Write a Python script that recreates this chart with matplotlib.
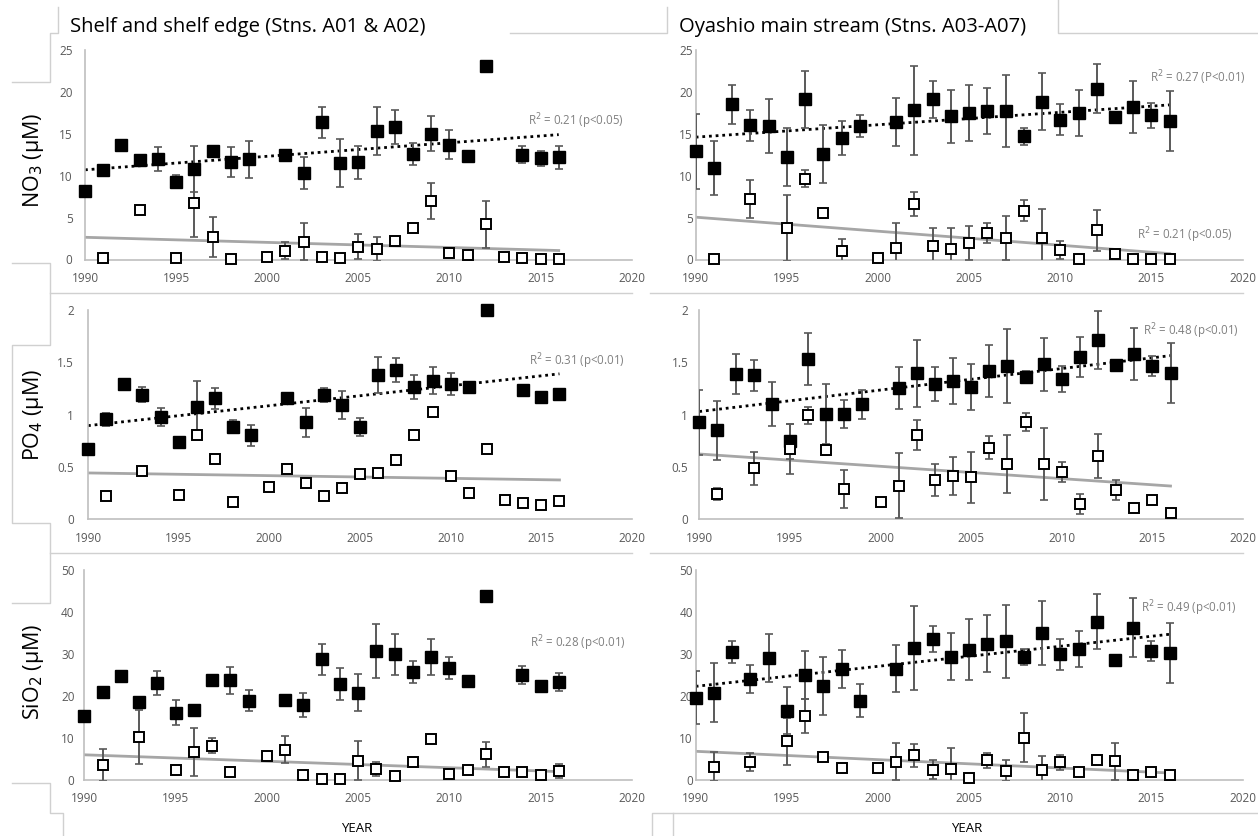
import numpy as np
import matplotlib
matplotlib.use('Agg')
import matplotlib.pyplot as plt
from matplotlib.lines import Line2D

plt.rcParams['font.family'] = ['Open Sans', 'DejaVu Sans']

years = np.arange(1990, 2017)
nan = np.nan

# shelf (A01 & A02)
no3_shelf = [8.2, 10.7, 13.7, 11.9, 12.0, 9.3, 10.8, 12.9, 11.6, 11.95, nan, 12.5, 10.35, 16.4, 11.5,
             11.6, 15.35, 15.8, 12.6, 15.0, 13.7, 12.4, 23.05, nan, 12.5, 12.1, 12.2]
no3_shelf_err = [0, 0, 0, 0, 1.4, 0.8, 2.7, 0, 1.8, 2.2, 0, 0, 1.9, 1.85, 2.9,
                 1.95, 2.9, 2.0, 1.35, 2.1, 1.75, 0, 0, 0, 1.0, 0.9, 1.35]
no3_shelf_o = [nan, 0.2, nan, 5.9, nan, 0.2, 6.7, 2.65, 0.1, nan, 0.3, 1.07, 2.1, 0.3, 0.2,
               1.55, 1.27, 2.2, 3.8, 7.0, 0.75, 0.5, 4.2, 0.35, 0.15, 0.1, 0.1]
no3_shelf_o_err = [0, 0, 0, 0, 0, 0, 4.0, 2.4, 0, 0, 0, 1.0, 2.2, 0, 0,
                   1.5, 1.4, 0, 0, 2.15, 0, 0, 2.8, 0, 0, 0, 0]

po4_shelf = [0.67, 0.955, 1.29, 1.19, 0.98, 0.735, 1.075, 1.155, 0.885, 0.805, nan, 1.155, 0.925, 1.19, 1.09,
             0.88, 1.38, 1.43, 1.26, 1.325, 1.29, 1.26, 2.0, nan, 1.24, 1.165, 1.2]
po4_shelf_err = [0, 0.06, 0.05, 0.07, 0.085, 0, 0.245, 0.1, 0.065, 0.1, 0, 0.02, 0.135, 0.065, 0.135,
                 0.085, 0.175, 0.115, 0.115, 0.13, 0.105, 0, 0, 0, 0, 0, 0.03]
po4_shelf_o = [nan, 0.22, nan, 0.465, nan, 0.23, 0.81, 0.575, 0.17, nan, 0.31, 0.48, 0.345, 0.22, 0.295,
               0.43, 0.44, 0.567, 0.81, 1.03, 0.417, 0.255, 0.67, 0.18, 0.16, 0.137, 0.175]
po4_shelf_o_err = [0] * 27

sio2_shelf = [15.3, 21.0, 24.8, 18.65, 23.1, 16.0, 16.7, 23.9, 23.7, 18.9, nan, 19.0, 17.85, 28.7, 22.8,
              20.8, 30.7, 29.9, 25.8, 29.2, 26.6, 23.65, 43.9, nan, 25.0, 22.3, 23.3]
sio2_shelf_err = [0, 0.5, 0, 0, 2.9, 2.95, 0, 0, 3.3, 2.45, 0, 0, 2.8, 3.75, 3.8,
                  4.4, 6.4, 4.85, 2.6, 4.3, 2.6, 0, 0, 0, 2.15, 1.2, 2.2]
sio2_shelf_o = [nan, 3.57, nan, 10.2, nan, 2.46, 6.67, 8.2, 2.0, nan, 5.7, 7.2, 1.27, 0.24, 0.16,
                4.6, 2.7, 1.03, 4.3, 9.84, 1.5, 2.46, 6.1, 1.9, 1.83, 1.1, 2.14]
sio2_shelf_o_err = [0, 3.8, 0, 6.35, 0, 0, 5.65, 1.7, 0, 0, 0, 3.2, 0, 0, 0,
                    4.65, 1.7, 0, 0, 0, 0, 0, 3.05, 0, 0, 0, 1.6]

# Oyashio (A03-A07)
no3_oya = [12.9, 10.9, 18.5, 16.0, 15.95, 12.2, 19.1, 12.6, 14.5, 15.9, nan, 16.4, 17.8, 19.1, 17.1,
           17.5, 17.7, 17.75, 14.7, 18.85, 16.7, 17.5, 20.4, 17.0, 18.2, 17.2, 16.5]
no3_oya_err = [4.5, 3.25, 2.35, 1.8, 3.25, 3.45, 3.4, 3.5, 2.0, 1.3, 0, 2.9, 5.35, 2.2, 3.15,
               3.3, 2.75, 4.3, 1.0, 3.4, 1.8, 2.75, 2.9, 0, 3.15, 1.45, 3.55]
no3_oya_o = [nan, 0.1, nan, 7.2, nan, 3.75, 9.65, 5.5, 1.0, nan, 0.15, 1.4, 6.6, 1.6, 1.3,
             2.0, 3.2, 2.6, 5.8, 2.6, 1.1, 0.1, 3.5, 0.7, 0.1, 0.1, 0.1]
no3_oya_o_err = [0, 0, 0, 2.3, 0, 3.9, 1.05, 0.5, 1.4, 0, 0, 3.0, 1.45, 2.2, 2.5,
                 2.0, 1.2, 2.6, 1.25, 3.4, 1.05, 0, 2.45, 0, 0, 0, 0]

po4_oya = [0.927, 0.85, 1.39, 1.376, 1.105, 0.745, 1.53, 1.006, 1.006, 1.1, nan, 1.258, 1.395, 1.293, 1.325,
           1.26, 1.417, 1.465, 1.363, 1.48, 1.344, 1.554, 1.713, 1.475, 1.58, 1.465, 1.4]
po4_oya_err = [0.31, 0.285, 0.19, 0.15, 0.21, 0.17, 0.25, 0.285, 0.135, 0.14, 0, 0.2, 0.32, 0.165, 0.22,
               0.22, 0.25, 0.355, 0.05, 0.255, 0.125, 0.19, 0.275, 0, 0.245, 0.095, 0.285]
po4_oya_o = [nan, 0.242, nan, 0.487, nan, 0.675, 0.994, 0.66, 0.29, nan, 0.17, 0.32, 0.806, 0.376, 0.414,
             0.4, 0.685, 0.529, 0.927, 0.529, 0.455, 0.15, 0.608, 0.28, 0.108, 0.188, 0.057]
po4_oya_o_err = [0, 0.06, 0, 0.16, 0, 0.24, 0.083, 0.05, 0.185, 0, 0.03, 0.31, 0.14, 0.15, 0.18,
                 0.24, 0.11, 0.28, 0.085, 0.34, 0.095, 0.095, 0.21, 0.095, 0, 0, 0]

sio2_oya = [19.6, 20.8, 30.4, 24.05, 29.05, 16.5, 24.9, 22.4, 26.5, 18.9, nan, 26.5, 31.35, 33.65, 29.4,
            31.0, 32.5, 33.0, 29.4, 35.0, 29.9, 31.2, 37.7, 28.6, 36.3, 30.7, 30.3]
sio2_oya_err = [6.35, 7.05, 2.6, 3.45, 5.8, 5.6, 5.7, 6.95, 4.55, 3.9, 0, 5.6, 10.0, 3.1, 5.55,
                7.3, 6.9, 8.65, 1.9, 7.55, 3.75, 4.2, 6.55, 0, 6.95, 2.45, 7.1]
sio2_oya_o = [nan, 3.2, nan, 4.3, nan, 9.2, 15.3, 5.55, 2.9, nan, 2.8, 4.4, 5.9, 2.5, 2.55,
              0.55, 4.7, 2.15, 10.1, 2.4, 4.2, 1.9, 4.85, 4.45, 1.27, 1.9, 1.27]
sio2_oya_o_err = [0, 3.5, 0, 2.2, 0, 5.6, 4.0, 0, 0, 0, 0, 4.5, 2.75, 2.2, 5.0,
                  0, 1.75, 2.5, 5.85, 3.3, 1.7, 0, 1.1, 4.35, 0, 0, 0]

# trend lines read at 1990 and 2016
trend_years = [1990, 2016]
trend_no3_shelf, trend_no3_shelf_o = [10.7, 14.9], [2.65, 1.07]
trend_no3_oya, trend_no3_oya_o = [14.6, 18.45], [5.05, 0.7]
trend_po4_shelf, trend_po4_shelf_o = [0.895, 1.39], [0.443, 0.376]
trend_po4_oya, trend_po4_oya_o = [1.03, 1.564], [0.624, 0.318]
trend_sio2_shelf, trend_sio2_shelf_o = None, [6.0, 2.0]
trend_sio2_oya, trend_sio2_oya_o = [22.3, 34.7], [6.83, 1.67]

W, H = 1258, 836
fig = plt.figure(figsize=(W / 100, H / 100), dpi=100)


def box(x0, x1, y_top, y_bot):
    return [x0 / W, 1 - y_bot / H, (x1 - x0) / W, (y_bot - y_top) / H]


panels = [
    dict(pos=box(85, 631.6, 50, 259.5), ylim=25, yt=[0, 5, 10, 15, 20, 25], pad=9,
         f=no3_shelf, fe=no3_shelf_err, o=no3_shelf_o, oe=no3_shelf_o_err,
         tf=trend_no3_shelf, to=trend_no3_shelf_o,
         notes=[('R$^2$ = 0.21 (p<0.05)', 2014.3, 16.5)]),
    dict(pos=box(695.7, 1242.6, 50, 259.5), ylim=25, yt=[0, 5, 10, 15, 20, 25], pad=2,
         f=no3_oya, fe=no3_oya_err, o=no3_oya_o, oe=no3_oya_o_err,
         tf=trend_no3_oya, to=trend_no3_oya_o,
         notes=[('R$^2$ = 0.27 (P<0.01)', 2014.9, 21.7), ('R$^2$ = 0.21 (p<0.05)', 2014.2, 2.9)]),
    dict(pos=box(88, 632, 310, 519.3), ylim=2, yt=[0, 0.5, 1, 1.5, 2], pad=10,
         f=po4_shelf, fe=po4_shelf_err, o=po4_shelf_o, oe=po4_shelf_o_err,
         tf=trend_po4_shelf, to=trend_po4_shelf_o,
         notes=[('R$^2$ = 0.31 (p<0.01)', 2014.3, 1.51)]),
    dict(pos=box(699.3, 1243, 310, 519.3), ylim=2, yt=[0, 0.5, 1, 1.5, 2], pad=8,
         f=po4_oya, fe=po4_oya_err, o=po4_oya_o, oe=po4_oya_o_err,
         tf=trend_po4_oya, to=trend_po4_oya_o,
         notes=[('R$^2$ = 0.48 (p<0.01)', 2014.5, 1.8)]),
    dict(pos=box(84.3, 631.8, 570, 780), ylim=50, yt=[0, 10, 20, 30, 40, 50], pad=7,
         f=sio2_shelf, fe=sio2_shelf_err, o=sio2_shelf_o, oe=sio2_shelf_o_err,
         tf=trend_sio2_shelf, to=trend_sio2_shelf_o,
         notes=[('R$^2$ = 0.28 (p<0.01)', 2014.4, 32.6)]),
    dict(pos=box(695.7, 1242.6, 570, 780), ylim=50, yt=[0, 10, 20, 30, 40, 50], pad=2,
         f=sio2_oya, fe=sio2_oya_err, o=sio2_oya_o, oe=sio2_oya_o_err,
         tf=trend_sio2_oya, to=trend_sio2_oya_o,
         notes=[('R$^2$ = 0.49 (p<0.01)', 2014.4, 41.0)]),
]

gray_txt = '#595959'
for p in panels:
    ax = fig.add_axes(p['pos'])
    ax.set_xlim(1990, 2020)
    ax.set_ylim(0, p['ylim'])
    ax.set_xticks([1990, 1995, 2000, 2005, 2010, 2015, 2020])
    ax.set_yticks(p['yt'])
    ax.set_yticklabels(['%g' % v for v in p['yt']])
    for s in ['top', 'right']:
        ax.spines[s].set_visible(False)
    for s in ['left', 'bottom']:
        ax.spines[s].set_color('#bfbfbf')
        ax.spines[s].set_linewidth(1.2)
    ax.tick_params(length=0, labelsize=8.5, labelcolor=gray_txt)
    ax.tick_params(axis='x', pad=9)
    ax.tick_params(axis='y', pad=p['pad'])
    ax.patch.set_alpha(0)

    if p['tf'] is not None:
        ax.plot(trend_years, p['tf'], color='black', lw=2, ls=(0, (1, 1.4)), zorder=2)
    ax.plot(trend_years, p['to'], color='#a6a6a6', lw=2, zorder=2)

    f = np.array(p['f'])
    fe = np.array(p['fe'])
    o = np.array(p['o'])
    oe = np.array(p['oe'])
    m = fe > 0
    ax.errorbar(years[m], f[m], yerr=fe[m], fmt='none', ecolor='#595959', elinewidth=1.4,
                capsize=3, capthick=1.2, zorder=3)
    m = oe > 0
    ax.errorbar(years[m], o[m], yerr=oe[m], fmt='none', ecolor='#595959', elinewidth=1.4,
                capsize=3, capthick=1.2, zorder=3)
    ax.plot(years, f, 's', color='black', ms=8, zorder=4, clip_on=False)
    ax.plot(years, o, 's', mfc='white', mec='black', mew=1.4, ms=7, zorder=5, clip_on=False)

    for t, x, y in p['notes']:
        ax.text(x, y, t, fontsize=8.3, color='#808080', va='center', ha='left')

# titles and axis labels
fig.text(70 / W, 1 - 27 / H, 'Shelf and shelf edge (Stns. A01 & A02)', fontsize=14.6, va='center')
fig.text(679 / W, 1 - 27 / H, 'Oyashio main stream (Stns. A03-A07)', fontsize=14.6, va='center')
fig.text(34 / W, 1 - 160 / H, 'NO$_3$ (µM)', fontsize=15.5, rotation=90, ha='center', va='center')
fig.text(34 / W, 1 - 415 / H, 'PO$_4$ (µM)', fontsize=15.5, rotation=90, ha='center', va='center')
fig.text(34 / W, 1 - 672 / H, 'SiO$_2$ (µM)', fontsize=15.5, rotation=90, ha='center', va='center')
fig.text(357 / W, 1 - 828 / H, 'YEAR', fontsize=9.5, ha='center', va='center')
fig.text(967 / W, 1 - 828 / H, 'YEAR', fontsize=9.5, ha='center', va='center')

# leftover chart-area frame lines
frame = [
    [(58, 7), (58, 33), (50, 33), (50, 82), (12, 82)],
    [(12, 263), (50, 263), (50, 345), (12, 345), (12, 523), (50, 523), (50, 603), (12, 603)],
    [(50, 293), (632, 293)],
    [(50, 553), (632, 553)],
    [(12, 783), (50, 783), (50, 813), (63, 813), (63, 836)],
    [(510, 33), (667, 33), (667, 7)],
    [(1058, 0), (1058, 33), (1258, 33)],
    [(650, 293), (1243, 293)],
    [(650, 553), (1243, 553)],
    [(652, 836), (652, 813), (1257, 813)],
    [(673, 813), (673, 836)],
]
for seg in frame:
    xs = [a / W for a, b in seg]
    ys = [1 - b / H for a, b in seg]
    fig.add_artist(Line2D(xs, ys, color='#d0d0d0', lw=1))

plt.savefig('out.png', dpi=100)
